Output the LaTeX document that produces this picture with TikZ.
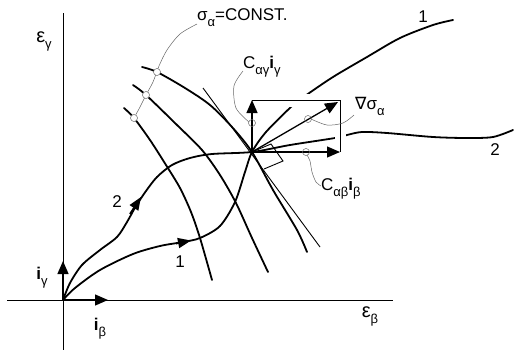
\documentclass[tikz,border=0pt]{standalone}
\usepackage{fontspec}
\setmainfont{Liberation Sans}
\newfontfamily\dvfont{DejaVu Sans}
\usetikzlibrary{arrows.meta}
\newcommand\sbs[1]{\raisebox{-0.35em}{\fontsize{13}{13}\selectfont #1}}
\newcommand\bigletter[1]{{\fontsize{20}{20}\selectfont #1}}
\begin{document}
\begin{tikzpicture}[x=1pt,y=-1pt,
  lbl/.style={inner sep=0pt, font=\fontsize{17}{20}\selectfont},
  curve/.style={line width=1.8pt, line cap=round, line join=round},
  axis/.style={line width=0.9pt},
  thinl/.style={line width=0.9pt},
  vec/.style={line width=1.3pt, -{Triangle[length=13pt,width=11pt]}},
  midarrow/.style={line width=1.8pt, -{Triangle[length=13pt,width=10pt]}},
  lead/.style={line width=0.5pt, black!60},
  halo/.style={white, line width=13pt}]
\useasboundingbox (0,0) rectangle (515,354);
\coordinate (O) at (63,300);
\coordinate (P) at (252,152);
\coordinate (RT) at (340,100);
\coordinate (LT) at (252,100);
\coordinate (RB) at (340,152);
% axes
\draw[axis] (7,300) -- (393,300);
\draw[axis] (63,13) -- (63,350);
% sigma = const curves
\draw[curve] plot[smooth] coordinates {(142,67) (157,72) (185,88) (210,105) (232,127) (252,152) (273,190) (297,230) (307,252)};
\draw[curve] plot[smooth] coordinates {(133,85) (146,95) (177,125) (202,150) (220,175) (236,203) (252,238) (268,272)};
\draw[curve] plot[smooth] coordinates {(124,108) (134,118) (150,140) (166,165) (180,188) (191,212) (200,238) (212,280)};
% tangent
\draw[thinl] (203,88) -- (320,247);
% path 1
\draw[curve] plot[smooth] coordinates {(63,300) (75,288) (100,270) (133,254) (160,246) (183,242) (200,238) (220,226) (235,202) (245,172) (252,152) (266,132) (292,106) (305,96) (333,77) (367,57) (400,38) (433,25) (453,20)};
% path 2
\draw[curve] plot[smooth] coordinates {(63,300) (70,283) (82,265) (100,250) (117,237) (127,222) (136,206) (146,191) (157,177) (172,165) (190,158) (212,154) (252,152) (290,145) (335,138) (347,135) (362,132) (387,133) (433,137) (467,138) (493,137) (513,130)};
% arrows on paths
\draw[midarrow] (130,214) -- (141,197);
\draw[midarrow] (176,243.5) -- (191,240.5);
% halos around rectangle edges
\draw[halo] (282,100) -- (318,100);
\draw[halo, line width=11pt] (340,125) -- (340,145);
% rectangle
\draw[thinl, line width=0.8pt] (LT) -- (RT) -- (RB);
% vectors at P
\draw[vec] (P) -- (LT);
\draw[vec] (P) -- (RB);
\draw[vec] (P) -- (338,102);
% right angle mark
\draw[thinl] (P) -- (271,144) -- (283,161) -- (264,169);
% input vectors
\draw[vec] (O) -- (63,261);
\draw[vec] (O) -- (108,300);
% leaders
\draw[lead] plot[smooth] coordinates {(197,24) (180,34) (167,50) (159,66) (153,82) (146,95) (140,107) (134,118)};
\draw[lead, fill=white] (157,72) circle[radius=3.5pt];
\draw[lead, fill=white] (146,95) circle[radius=3.5pt];
\draw[lead, fill=white] (134,118) circle[radius=3.5pt];
\draw[lead] plot[smooth] coordinates {(243,71) (234,86) (236,108) (249,122)};
\draw[lead] (252,123) circle[radius=3.5pt];
\draw[lead] plot[smooth] coordinates {(354,115) (343,123) (327,125) (311,119)};
\draw[lead] (308,119) circle[radius=3.5pt];
\draw[lead] plot[smooth] coordinates {(307,155) (310,161) (312,172) (316,182) (321,186)};
\draw[lead] (306,152) circle[radius=3.5pt];
% labels
\node[lbl] (eg) at (44,41) {\bigletter{ε}\sbs{γ}};
\node[lbl] (eb) at (370,316) {\bigletter{ε}\sbs{β}};
\node[lbl] (ig) at (42,278) {\textbf{i}\sbs{γ}};
\node[lbl] (ib) at (100,329) {\textbf{i}\sbs{β}};
\node[lbl, anchor=west] (sc) at (197,18) {σ\sbs{α}=CONST.};
\node[lbl, anchor=west] (cg) at (243,67) {C\sbs{αγ}\textbf{i}\sbs{γ}};
\node[lbl, anchor=west] (gr) at (355,106) {{\dvfont ∇}σ\sbs{α}};
\node[lbl, anchor=west] (cb) at (321,189) {C\sbs{αβ}\textbf{i}\sbs{β}};
\node[lbl] (n1a) at (423,17) {1};
\node[lbl] (n2a) at (495,150) {2};
\node[lbl] (n2b) at (117,202) {2};
\node[lbl] (n1b) at (180,262) {1};
\end{tikzpicture}
\end{document}
